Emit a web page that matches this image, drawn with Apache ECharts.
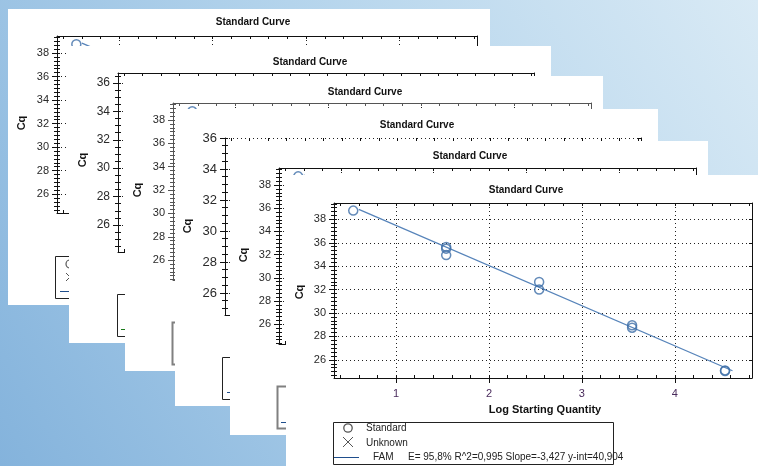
<!DOCTYPE html>
<html><head><meta charset="utf-8">
<script src="https://cdn.jsdelivr.net/npm/echarts@6/dist/echarts.min.js"></script>
<style>html,body{margin:0;padding:0;background:#fff}#c{width:758px;height:466px}</style>
</head><body><div id="c"></div>
<script>
// ---- data ----
const xTicks = [1, 2, 3, 4];
const yTicksA = [26, 28, 30, 32, 34, 36, 38];
const yTicksB = [26, 28, 30, 32, 34, 36];
const logQty = [0.54, 1.54, 1.54, 1.54, 2.54, 2.54, 3.54, 3.54, 4.54, 4.54];
const cqValues = [38.75, 35.65, 35.5, 34.95, 32.65, 32.0, 28.95, 28.75, 25.1, 25.05];
const fitX = [0.6, 4.62];
const fitY = [38.85, 25.07];
const legendNames = ['Standard', 'Unknown', 'FAM'];
const fitStats = 'E= 95,8% R^2=0,995 Slope=-3,427 y-int=40,904';
const titleText = 'Standard Curve';
const yName = 'Cq';
const xName = 'Log Starting Quantity';

// ---- layout ----
const W = 758, H = 466;
const FONT = '"Liberation Sans", Arial, sans-serif';
const XMIN = 0.333, XMAX = 4.83;
const panels = [
  {box:[8,9,490,305], grid:[57,36,477,213], y:[24.4,39.45], yt:yTicksA, ym:6, title:[253,22], cq:[22,123], leg:[55,256], legStroke:'#222', legW:1, lfs:11, data:true,
   sym:{circle:[70,264], cross:[70,277], line:[60,291,'#1f4e8c']}},
  {box:[69,46,551,343], grid:[118,73,534,252], y:[24.1,36.7], yt:yTicksB, ym:4, title:[310,62], cq:[83,160], leg:[117,294], legStroke:'#222', legW:1, lfs:12, data:false,
   sym:{line:[121,329,'#1a7a1a']}},
  {box:[125,76,603,371], grid:[173,103,591,280], y:[24.3,39.46], yt:yTicksA, ym:6, title:[365,92], cq:[138,190], leg:[172,322], legStroke:'#808080', legW:2, lfs:11, data:true, axisColor:'#555', sym:{}},
  {box:[175,109,658,406], grid:[225,138,641,315], y:[24.58,36], yt:yTicksB, ym:4, title:[417,125], cq:[188,226], leg:[222,357], legStroke:'#222', legW:1, lfs:13, data:false, dottedTop:true,
   sym:{line:[227,392,'#1f4e8c']}},
  {box:[230,141,708,435], grid:[279,168,696,344], y:[24.3,39.47], yt:yTicksA, ym:6, title:[470,156], cq:[244,255], leg:[277,386], legStroke:'#808080', legW:2, lfs:11, data:true,
   sym:{line:[281,422,'#1f4e8c']}},
  {box:[286,175,758,466], grid:[334,203,752,378], y:[24.45,39.4], yt:yTicksA, ym:6, title:[526,190], cq:[300,292], leg:[333,422], legStroke:'#222', legW:1, lfs:11, data:true, front:true, sym:{}}
];

function range(a, b, step) { const out = []; for (let v = a; v <= b + 1e-9; v += step) out.push(Math.round(v * 1000) / 1000); return out; }
const xAll = range(0.4, 4.8, 0.2);

function baseAxis(gi, z, mn, mx) {
  return {type:'value', gridIndex:gi, min:mn, max:mx, z:z, scale:true,
    axisLine:{show:false, onZero:false}, axisTick:{show:false}, axisLabel:{show:false},
    splitLine:{show:false}, minorTick:{show:false}, minorSplitLine:{show:false}, axisPointer:{show:false}};
}

const grids = [], xAxes = [], yAxes = [], series = [], graphics = [];
graphics.push({type:'rect', shape:{x:0,y:0,width:W,height:H}, silent:true, z:0,
  style:{fill:{type:'linear', x:0, y:1, x2:1, y2:0, colorStops:[{offset:0,color:'#84b3dc'},{offset:0.55,color:'#b4d4ec'},{offset:1,color:'#d9eaf5'}]}}});

function txt(x, y, text, font, z, opts) {
  return Object.assign({type:'text', x:x, y:y, z:z, silent:true,
    style:{text:text, font:font, fill:'#111', align:'center', verticalAlign:'middle', textAlign:'center', textVerticalAlign:'middle'}}, opts || {});
}

panels.forEach((p, gi) => {
  const base = 10 + gi * 10;
  const lc = p.axisColor || '#111';
  const [gl, gt, gr, gb] = p.grid;
  grids.push({left:gl, top:gt, width:gr - gl, height:gb - gt, containLabel:false, outerBoundsMode:'none', z:base + 1});
  const xi = xAxes.length, yi = yAxes.length;
  const yAll = range(24, 40, 2 / p.ym);
  const [ymn, ymx] = p.y;
  // x axes
  xAxes.push(Object.assign(baseAxis(gi, base + 2, XMIN, XMAX), {position:'bottom',
    axisLine:{show:true, onZero:false, lineStyle:{color:lc, width:1}},
    axisTick:{show:true, inside:false, length:5, customValues:xTicks, lineStyle:{color:lc}},
    axisLabel:{show:!!p.front, customValues:xTicks, margin:10, color:'#4a2b5c', fontSize:11, fontFamily:FONT},
    splitLine:{show:true, lineStyle:{color:'#222', type:[1,3], width:1}}}));
  xAxes.push(Object.assign(baseAxis(gi, base + 2, XMIN, XMAX), {position:'bottom',
    axisTick:{show:true, inside:true, length:3, customValues:xAll, lineStyle:{color:lc}}}));
  xAxes.push(Object.assign(baseAxis(gi, base + 2, XMIN, XMAX), {position:'top',
    axisLine:{show:!p.dottedTop, onZero:false, lineStyle:{color:lc, width:1}},
    axisTick:{show:true, inside:true, length:3, customValues:xAll, lineStyle:{color:lc}}}));
  // y axes
  yAxes.push(Object.assign(baseAxis(gi, base + 2, ymn, ymx), {position:'left',
    axisLine:{show:true, onZero:false, lineStyle:{color:lc, width:1}},
    axisTick:{show:true, inside:false, length:5, customValues:p.yt, lineStyle:{color:lc}},
    axisLabel:{show:true, customValues:p.yt, margin:8, color:'#2a2a2a', fontSize:p.lfs, fontFamily:FONT},
    splitLine:{show:true, lineStyle:{color:'#222', type:[1,3], width:1}}}));
  yAxes.push(Object.assign(baseAxis(gi, base + 2, ymn, ymx), {position:'left',
    axisTick:{show:true, inside:false, length:3, customValues:yAll, lineStyle:{color:lc}}}));
  yAxes.push(Object.assign(baseAxis(gi, base + 2, ymn, ymx), {position:'left',
    axisTick:{show:true, inside:true, length:3, customValues:yAll, lineStyle:{color:lc}}}));
  yAxes.push(Object.assign(baseAxis(gi, base + 2, ymn, ymx), {position:'right',
    axisLine:{show:true, onZero:false, lineStyle:{color:lc, width:1}},
    axisTick:{show:true, inside:true, length:3, customValues:p.yt, lineStyle:{color:lc}}}));

  if (p.data) {
    series.push({type:'line', xAxisIndex:xi, yAxisIndex:yi, z:base + 3, showSymbol:false, symbol:'none', silent:true, clip:true,
      lineStyle:{color:'#5784ba', width:1.3}, data:fitX.map((x, i) => [x, fitY[i]])});
    series.push({type:'scatter', xAxisIndex:xi, yAxisIndex:yi, z:base + 4, symbol:'circle', symbolSize:9, silent:true, clip:true,
      itemStyle:{color:'rgba(0,0,0,0)', borderColor:'#3d6ea8', borderWidth:1.5}, data:logQty.map((x, i) => [x, cqValues[i]])});
  }

  // panel sheet
  const b = p.box;
  graphics.push({type:'rect', shape:{x:b[0], y:b[1], width:b[2] - b[0], height:b[3] - b[1]}, style:{fill:'#fff'}, z:base, silent:true});
  graphics.push(txt(p.title[0], p.title[1], titleText, 'bold 10px ' + FONT, base + 5));
  graphics.push(txt(p.cq[0], p.cq[1], yName, 'bold 11px ' + FONT, base + 5, {rotation:Math.PI / 2}));
  // legend box
  const lx = p.leg[0] + 0.5, ly = p.leg[1] + 0.5;
  graphics.push({type:'rect', shape:{x:lx, y:ly, width:280, height:42}, style:{fill:'#fff', stroke:p.legStroke, lineWidth:p.legW}, z:base + 1, silent:true});
  const s = p.sym;
  if (s.circle) graphics.push({type:'circle', shape:{cx:s.circle[0], cy:s.circle[1], r:4}, style:{fill:'none', stroke:'#555', lineWidth:1.2}, z:base + 2, silent:true});
  if (s.cross) {
    graphics.push({type:'line', shape:{x1:s.cross[0] - 4, y1:s.cross[1] - 4, x2:s.cross[0] + 4, y2:s.cross[1] + 4}, style:{stroke:'#555', lineWidth:1}, z:base + 2, silent:true});
    graphics.push({type:'line', shape:{x1:s.cross[0] - 4, y1:s.cross[1] + 4, x2:s.cross[0] + 4, y2:s.cross[1] - 4}, style:{stroke:'#555', lineWidth:1}, z:base + 2, silent:true});
  }
  if (s.line) graphics.push({type:'line', shape:{x1:s.line[0], y1:s.line[1] + 0.5, x2:s.line[0] + 26, y2:s.line[1] + 0.5}, style:{stroke:s.line[2], lineWidth:1}, z:base + 2, silent:true});

  if (p.front) {
    graphics.push(txt((gl + gr) / 2 + 2, 410, xName, 'bold 11px ' + FONT, base + 5));
    const z = base + 2, lf = '10px ' + FONT;
    graphics.push({type:'circle', shape:{cx:348, cy:428, r:4.2}, style:{fill:'none', stroke:'#555', lineWidth:1.3}, z:z, silent:true});
    graphics.push({type:'line', shape:{x1:343, y1:437, x2:353, y2:447}, style:{stroke:'#555', lineWidth:1}, z:z, silent:true});
    graphics.push({type:'line', shape:{x1:343, y1:447, x2:353, y2:437}, style:{stroke:'#555', lineWidth:1}, z:z, silent:true});
    graphics.push({type:'line', shape:{x1:334, y1:457.5, x2:359, y2:457.5}, style:{stroke:'#1f4e8c', lineWidth:1}, z:z, silent:true});
    const mk = (x, y, t) => { const e = txt(x, y, t, lf, z + 1); e.style.align = 'left'; e.style.textAlign = 'left'; e.style.fill = '#222'; return e; };
    graphics.push(mk(366, 428, legendNames[0]));
    graphics.push(mk(366, 443, legendNames[1]));
    graphics.push(mk(373, 457, legendNames[2]));
    graphics.push(mk(408, 457, fitStats));
  }
});

const chart = echarts.init(document.getElementById('c'), null, {renderer:'canvas'});
chart.setOption({
  animation:false,
  backgroundColor:'transparent',
  grid:grids, xAxis:xAxes, yAxis:yAxes, series:series,
  graphic:{elements:graphics}
});
</script></body></html>
